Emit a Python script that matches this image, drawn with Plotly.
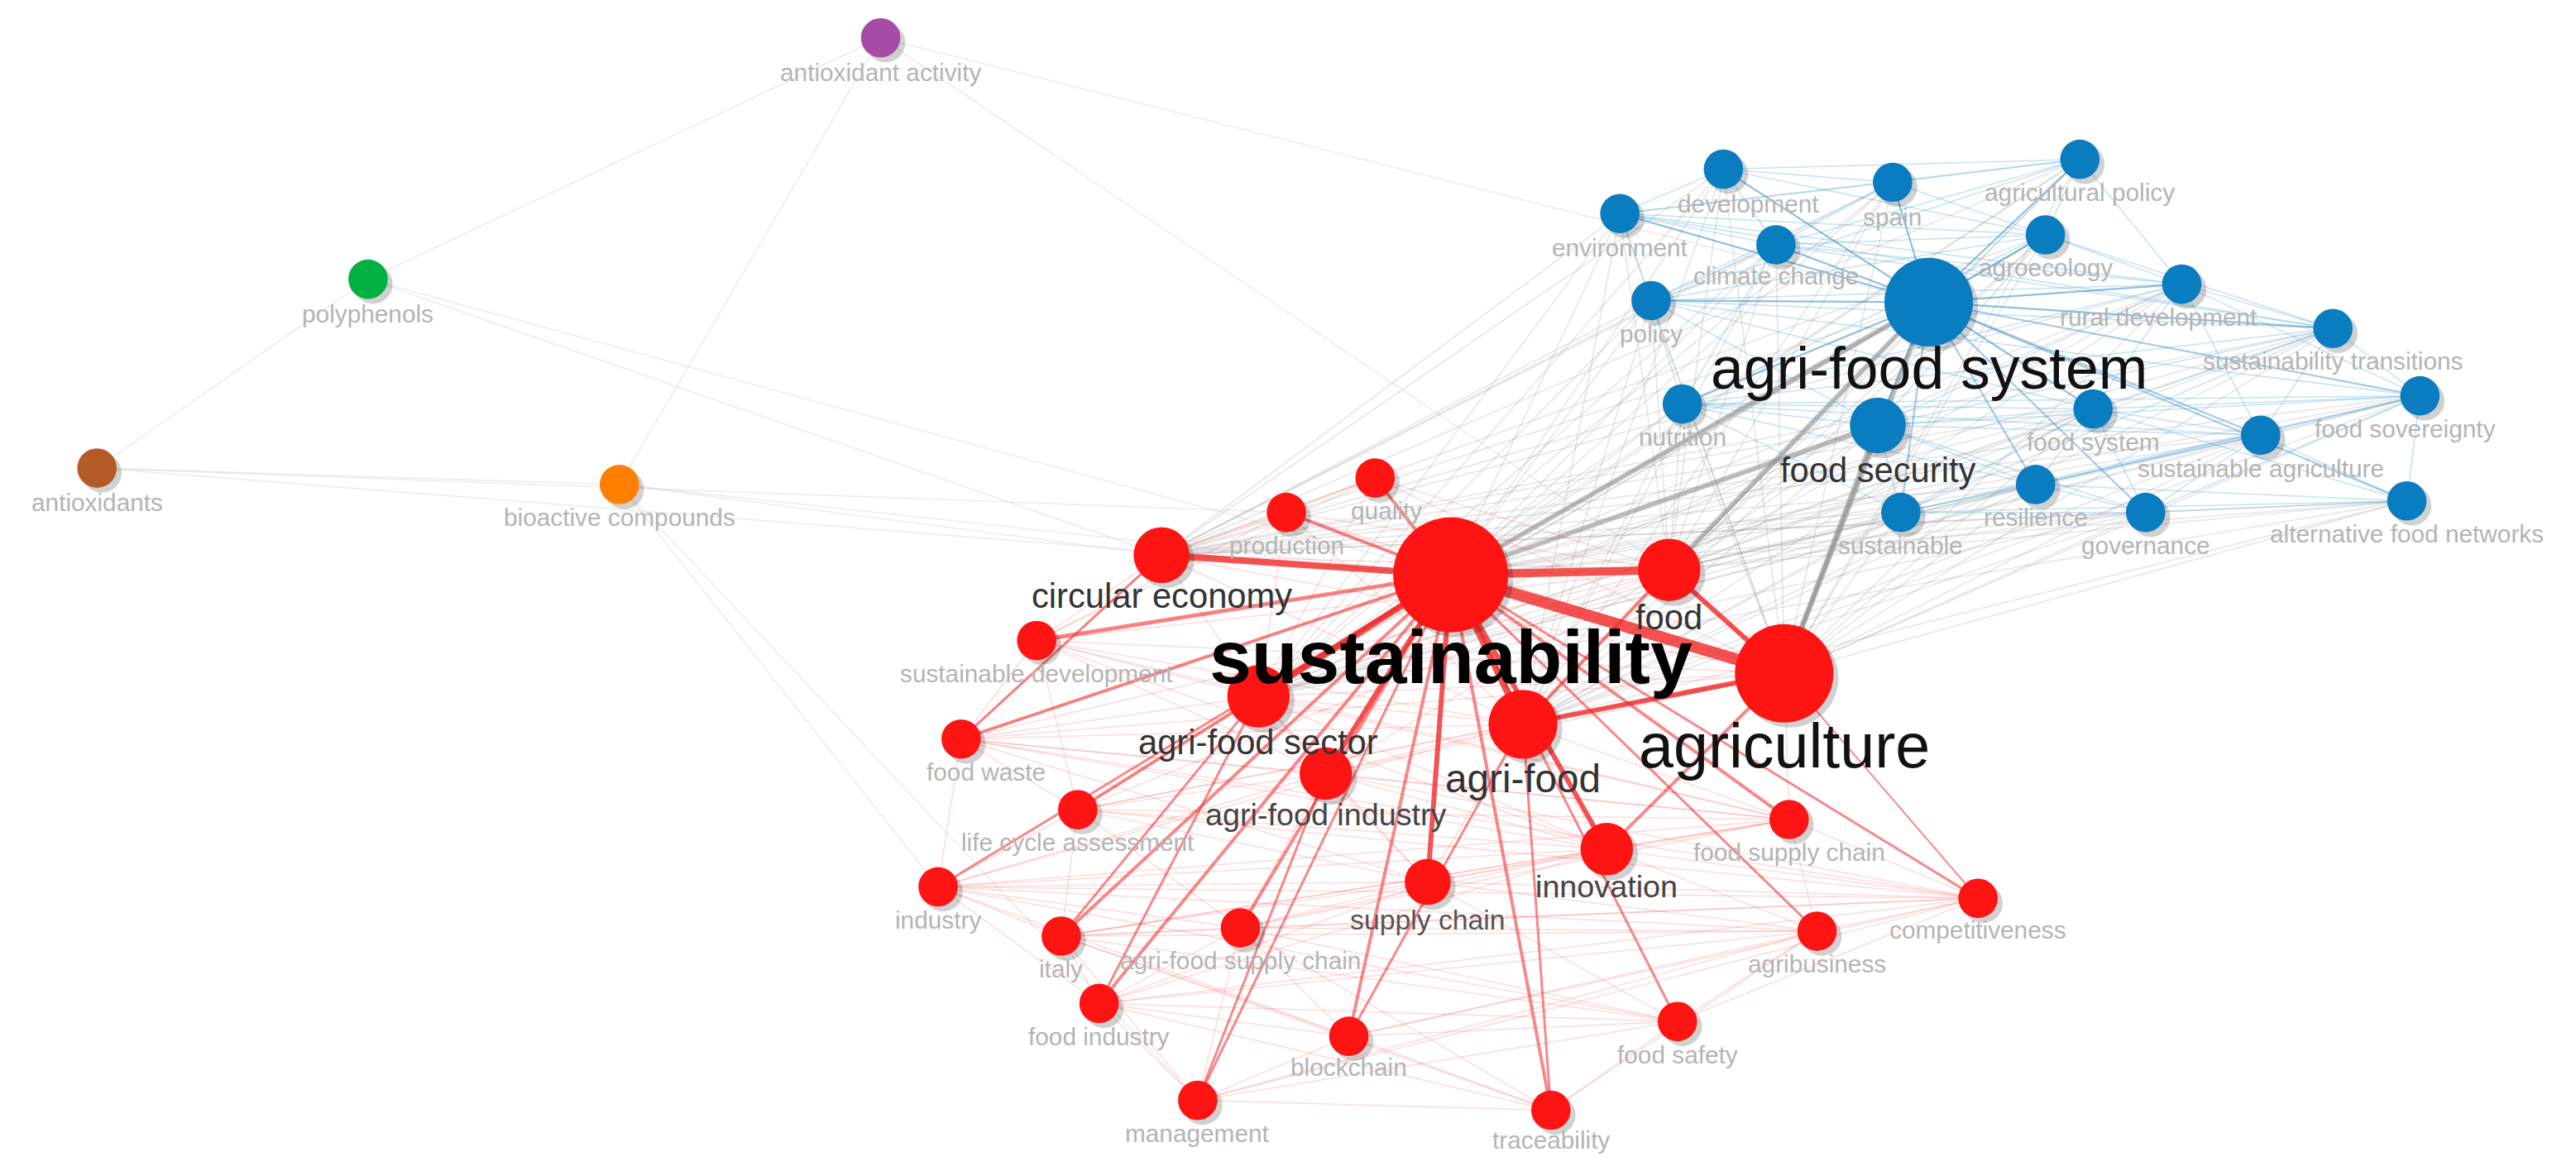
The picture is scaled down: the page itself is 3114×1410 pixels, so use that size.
import plotly.graph_objects as go

names = ["development","spain","agricultural policy","environment","climate change","agroecology",
 "agri-food system","policy","rural development","sustainability transitions","nutrition","food security",
 "food system","food sovereignty","sustainable agriculture","sustainable","resilience","governance",
 "alternative food networks",
 "quality","production","circular economy","sustainability","food","agriculture","sustainable development",
 "agri-food sector","agri-food","food waste","agri-food industry","life cycle assessment","food supply chain",
 "innovation","supply chain","industry","competitiveness","agri-food supply chain","italy","agribusiness",
 "food industry","food safety","blockchain","management","traceability",
 "antioxidant activity","polyphenols","antioxidants","bioactive compounds"]
node_x = [1045,1148,1262,982,1077,1241,1170,1001,1324,1416,1020,1139,1270,1469,1372,1153,1235,1302,1461,
 833,779,703,879,1012,1082,627,762,923,581,803,652,1085,974,865,567,1200,751,642,1102,665,1017,817,725,940,
 532,220,55,373]
node_y = [99,107,93,126,145,139,180,179,169,196,242,255,245,237,261,308,291,308,301,
 287,308,334,346,343,406,386,420,437,446,467,489,495,513,533,536,543,561,566,563,607,618,627,666,672,
 19,166,281,291]
node_r = [12,12,12,12,12,12,27,12,12,12,12,17,12,12,12,12,12,12,12,
 12,12,17,35,19,30,12,19,21,12,16,12,12,16,14,12,12,12,12,12,12,12,12,12,12,
 12,12,12,12]
cluster = ["b"]*19 + ["r"]*25 + ["purple","green","brown","orange"]
label_x = [1060,1148,1262,982,1077,1241,1170,1001,1310,1416,1020,1139,1270,1460,1372,1153,1235,1302,1461,
 840,779,703,879,1012,1082,627,762,923,596,803,652,1085,974,865,567,1200,751,642,1102,665,1017,817,725,940,
 532,220,55,373]
label_y = [120,128,113,147,164,159,220,199,189,216,262,282,265,257,281,328,311,328,321,
 307,328,359,396,372,450,406,448,470,466,492,509,515,536,556,556,562,581,586,583,627,638,646,686,690,
 40,187,302,311]
label_fs = [15,15,15,15,15,15,36,15,15,15,15,21,15,15,15,15,15,15,15,
 15,15,21,46,21,38,15,21,24,15,19,15,15,19,17,15,15,15,15,15,15,15,15,15,15,
 15,15,15,15]
label_big = {"agri-food system":"#111","sustainability":"#000","agriculture":"#111","food security":"#333",
 "circular economy":"#333","food":"#333","agri-food sector":"#333","agri-food":"#333",
 "agri-food industry":"#444","innovation":"#444","supply chain":"#555"}

strong_red = [("sustainability",n,w) for n,w in [("circular economy",4),("food",5),("agriculture",7),
 ("agri-food sector",4),("agri-food",4),("agri-food industry",3),("innovation",3),("supply chain",3),
 ("quality",2),("production",2),("sustainable development",2.5),("food waste",2),("life cycle assessment",2),
 ("industry",1.5),("italy",2),("agri-food supply chain",2),("food industry",2),("blockchain",2),
 ("management",1.5),("traceability",2),("food safety",1.5),("agribusiness",1.5),("food supply chain",2),
 ("competitiveness",1.5)]] + [
 ("agriculture","food",3),("agriculture","agri-food",3),("agriculture","innovation",2),
 ("agri-food","blockchain",1.5),("agri-food","traceability",1.5),("agri-food sector","food industry",1.5),
 ("circular economy","food waste",1.5),("agri-food sector","italy",1.5),("food","agri-food",2),
 ("agri-food industry","management",1.5),("agriculture","competitiveness",1)]
red_nodes = names[19:44]
light_red = []
for i,a in enumerate(red_nodes):
    for b in red_nodes[i+1:i+8]:
        light_red.append((a,b))
gray_src = ["sustainability","agriculture","food","agri-food","circular economy","agri-food sector"]
blue_nodes = names[0:19]
gray_edges = [(s,b) for s in gray_src for b in blue_nodes]
blue_edges = []
for i,a in enumerate(blue_nodes):
    for b in blue_nodes[i+1:i+7]:
        blue_edges.append((a,b))
blue_strong = [("agri-food system",b) for b in blue_nodes if b!="agri-food system"]
faint = [("antioxidants","polyphenols"),("polyphenols","antioxidant activity"),("antioxidants","bioactive compounds"),
 ("antioxidant activity","bioactive compounds"),("bioactive compounds","sustainability"),("antioxidants","sustainability"),
 ("polyphenols","sustainability"),("antioxidant activity","food"),("antioxidant activity","agri-food system"),
 ("bioactive compounds","circular economy"),("bioactive compounds","industry"),("polyphenols","circular economy"),
 ("bioactive compounds","management"),("antioxidants","production")]

idx = {n:i for i,n in enumerate(names)}
fig = go.Figure()
def add_edges(pairs, color, width):
    xs, ys = [], []
    for a,b in pairs:
        xs += [node_x[idx[a]], node_x[idx[b]], None]
        ys += [node_y[idx[a]], node_y[idx[b]], None]
    fig.add_trace(go.Scatter(x=xs, y=ys, mode="lines", line=dict(color=color, width=width),
                             hoverinfo="skip", showlegend=False))

add_edges(faint, "rgba(205,205,205,0.4)", 1.5)
add_edges(gray_edges, "rgba(150,150,150,0.22)", 1.8)
add_edges(blue_edges, "rgba(70,160,215,0.3)", 1.5)
add_edges(blue_strong, "rgba(60,140,200,0.45)", 2.2)
add_edges([("agri-food system","sustainability"),("agri-food system","agriculture"),("agri-food system","food"),
           ("food security","sustainability"),("food security","agriculture")], "rgba(140,140,140,0.55)", 6)
add_edges(light_red, "rgba(250,90,90,0.22)", 1.5)
for a,b,w in strong_red:
    a_ = 0.8 if w >= 3 else 0.55
    add_edges([(a,b)], "rgba(240,40,40,%s)" % a_, w*2)

cmap = {"b":"#0a7dc0","r":"#ff1414","purple":"#a64ca6","green":"#00b140","brown":"#b35a27","orange":"#ff8000"}
S = 1.986
fig.add_trace(go.Scatter(x=[x+3 for x in node_x], y=[y+3 for y in node_y], mode="markers",
    marker=dict(size=[r*2*S for r in node_r], color="rgba(0,0,0,0.18)", line=dict(width=0), opacity=1),
    hoverinfo="skip", showlegend=False))
fig.add_trace(go.Scatter(x=node_x, y=node_y, mode="markers",
    marker=dict(size=[r*2*S for r in node_r], color=[cmap[c] for c in cluster], line=dict(width=0), opacity=1),
    text=names, hoverinfo="text", showlegend=False))
for i,n in enumerate(names):
    fig.add_annotation(x=label_x[i], y=label_y[i], text=("<b>%s</b>" % n) if n=="sustainability" else n,
        showarrow=False, font=dict(family="Arial, Liberation Sans", size=label_fs[i]*S,
        color=label_big.get(n, "#b4b4b4")), xanchor="center", yanchor="middle")

fig.update_layout(width=3114, height=1410, margin=dict(l=0,r=0,t=0,b=0),
    plot_bgcolor="white", paper_bgcolor="white",
    xaxis=dict(range=[0,1568], visible=False),
    yaxis=dict(range=[710,0], visible=False))
fig.write_html("out.html")
